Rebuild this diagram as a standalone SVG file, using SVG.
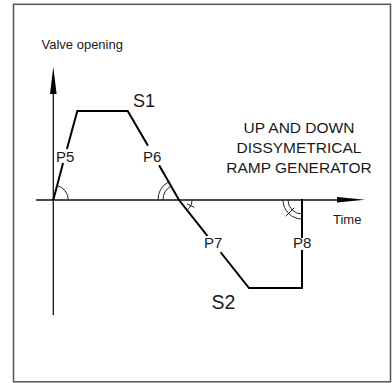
<svg xmlns="http://www.w3.org/2000/svg" width="392" height="383" viewBox="0 0 392 383">
  <style>
    .txt { font-family: "Liberation Sans", Arial, sans-serif; fill: #1a1a1a; }
    .axis { stroke: #111; stroke-width: 1.3; fill: none; }
    .ramp { stroke: #000; stroke-width: 2; fill: none; stroke-linecap: square; stroke-linejoin: miter; }
    .mark { stroke: #222; stroke-width: 1; fill: none; }
  </style>
  <rect width="392" height="383" fill="#fff"/>
  <rect id="frame" x="13.5" y="4.3" width="377" height="377.5" fill="none" stroke="#555" stroke-width="1.5"/>

  <g id="axes">
    <line class="axis" x1="53.3" y1="92" x2="53.3" y2="315"/>
    <polygon points="53.3,67 50,94 56.6,94" fill="#000"/>
    <line class="axis" x1="36" y1="200" x2="338" y2="200"/>
    <polygon points="365,199.7 337,197 337,202.6" fill="#000"/>
    <text class="txt" x="41.5" y="48.5" font-size="13">Valve opening</text>
    <text class="txt" x="333" y="224" font-size="13">Time</text>
  </g>

  <g id="ramp">
    <polyline class="ramp" points="53.3,200 62.8,164"/>
    <polyline class="ramp" points="67.2,148 77.3,111 127.7,111 147.5,145"/>
    <polyline class="ramp" points="159.6,166 179,200 206.8,235"/>
    <polyline class="ramp" points="221.2,253 249,288 302,288 302,251"/>
    <polyline class="ramp" points="302,237 302,200"/>
  </g>

  <g id="angle-marks">
    <path class="mark" d="M68.3,200 A15,15 0 0 0 57,185.5"/>
    <path class="mark" d="M158,200 A21,21 0 0 1 168.6,181.8"/>
    <path class="mark" d="M163,200 A16,16 0 0 1 171.05,186.1"/>
    <path class="mark" d="M192,200 A13,13 0 0 1 187.1,210.2"/>
    <line class="mark" x1="187.1" y1="203.9" x2="194.3" y2="207.4"/>
    <path class="mark" d="M283,200 A19,19 0 0 0 302,219"/>
    <path class="mark" d="M288,200 A14,14 0 0 0 302,214"/>
    <line class="mark" x1="294.2" y1="207.8" x2="285.7" y2="216.3"/>
  </g>

  <g id="labels">
    <text class="txt" x="56" y="161.5" font-size="15">P5</text>
    <text class="txt" x="143" y="161.5" font-size="15">P6</text>
    <text class="txt" x="204" y="248" font-size="15">P7</text>
    <text class="txt" x="293" y="248" font-size="15">P8</text>
    <text class="txt" x="133" y="107" font-size="18">S1</text>
    <text class="txt" x="211.5" y="309" font-size="19.5">S2</text>
  </g>

  <g id="title" class="txt" font-size="15.5" text-anchor="middle">
    <text x="299" y="133.3">UP AND DOWN</text>
    <text x="299" y="153">DISSYMETRICAL</text>
    <text x="299" y="172.7">RAMP GENERATOR</text>
  </g>
</svg>
